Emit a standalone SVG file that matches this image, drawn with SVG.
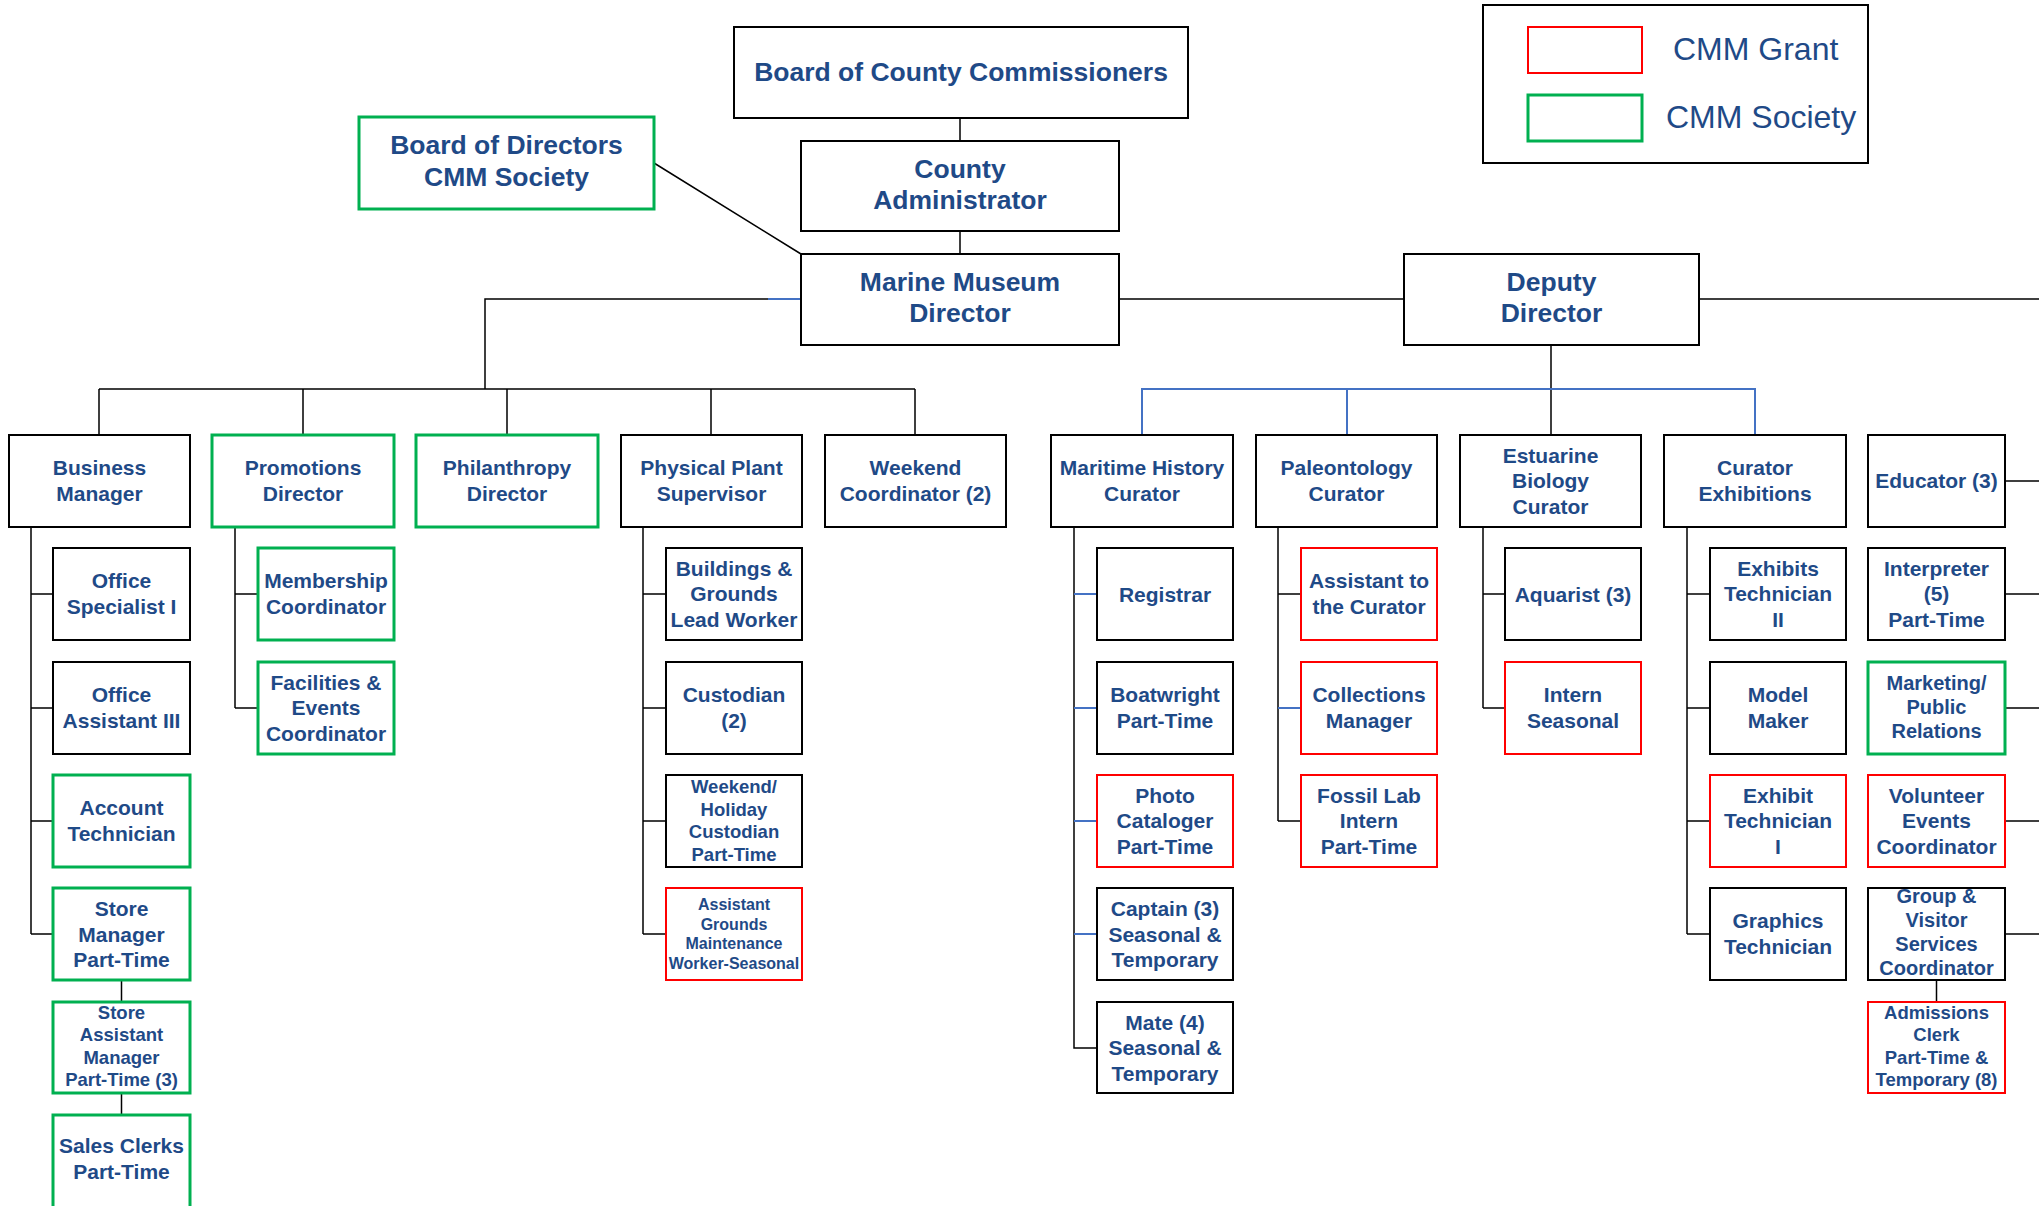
<svg xmlns="http://www.w3.org/2000/svg" width="2039" height="1206" viewBox="0 0 2039 1206">
<style>
.b{fill:#fff;stroke:#000;stroke-width:2}
.g{fill:#fff;stroke:#00B050;stroke-width:3}
.r{fill:#fff;stroke:#FF0000;stroke-width:2}
.t{font-family:"Liberation Sans",Arial,sans-serif;font-weight:bold;fill:#1F4A87;text-anchor:middle;font-size:21px}
.big{font-size:26.5px}
.s20{font-size:20px}
.s18{font-size:18.5px}
.s16{font-size:16px}
.leg{font-family:"Liberation Sans",Arial,sans-serif;fill:#1F4A87;font-size:32px}
.k{fill:none;stroke:#000;stroke-width:1.5}
.bl{fill:none;stroke:#4472C4;stroke-width:2}
</style>
<rect width="2039" height="1206" fill="#fff"/>
<g id="connectors">
<path class="k" d="M960,118V141M960,231V254M654,163L801,254"/>
<path class="k" d="M801,299H485V389M99,389H915M99,389V435M303,389V435M507,389V435M711,389V435M915,389V435"/>
<path class="bl" d="M768,299H801"/>
<path class="k" d="M1119,299H1404M1699,299H2039M1551,345V435"/>
<path class="bl" d="M1142,435V389H1755V435M1347,389V435"/>
<path class="k" d="M31,527V934M31,594H53M31,708H53M31,821H53M31,934H53M121.5,980V1002M121.5,1093V1115"/>
<path class="k" d="M235,527V708M235,594H258M235,708H258"/>
<path class="k" d="M643,527V934M643,594H666M643,708H666M643,821H666M643,934H666"/>
<path class="k" d="M1074,527V1048H1097"/>
<path class="bl" d="M1074,594H1097M1074,708H1097M1074,821H1097M1074,934H1097"/>
<path class="k" d="M1278,527V821M1278,594H1301M1278,821H1301"/>
<path class="bl" d="M1278,708H1301"/>
<path class="k" d="M1483,527V708M1483,594H1505M1483,708H1505"/>
<path class="k" d="M1687,527V934M1687,594H1710M1687,708H1710M1687,821H1710M1687,934H1710"/>
<path class="k" d="M2005,481H2039M2005,594H2039M2005,708H2039M2005,821H2039M2005,934H2039M1936.5,980V1002"/>
</g>
<g id="legend">
<rect class="b" x="1483" y="5" width="385" height="158"/>
<rect class="r" x="1528" y="27" width="114" height="46"/>
<rect class="g" x="1528" y="95" width="114" height="46"/>
<text class="leg" x="1673" y="60">CMM Grant</text>
<text class="leg" x="1666" y="128">CMM Society</text>
</g>
<g id="bocc"><rect class="b" x="734" y="27" width="454" height="91"/><text class="t big" x="961" y="81">Board of County Commissioners</text></g>
<g id="county-admin"><rect class="b" x="801" y="141" width="318" height="90"/><text class="t big" x="960"><tspan x="960" y="177.5">County</tspan><tspan x="960" y="209">Administrator</tspan></text></g>
<g id="marine-director"><rect class="b" x="801" y="254" width="318" height="91"/><text class="t big"><tspan x="960" y="290.5">Marine Museum</tspan><tspan x="960" y="322">Director</tspan></text></g>
<g id="deputy-director"><rect class="b" x="1404" y="254" width="295" height="91"/><text class="t big"><tspan x="1551.5" y="290.5">Deputy</tspan><tspan x="1551.5" y="322">Director</tspan></text></g>
<g id="board-directors"><rect class="g" x="359" y="117" width="295" height="92"/><text class="t big"><tspan x="506.5" y="154">Board of Directors</tspan><tspan x="506.5" y="185.5">CMM Society</tspan></text></g>

<g id="business-manager"><rect class="b" x="9" y="435" width="181" height="92"/><text class="t"><tspan x="99.5" y="475">Business</tspan><tspan x="99.5" y="501">Manager</tspan></text></g>
<g id="promotions-director"><rect class="g" x="212" y="435" width="182" height="92"/><text class="t"><tspan x="303" y="475">Promotions</tspan><tspan x="303" y="501">Director</tspan></text></g>
<g id="philanthropy-director"><rect class="g" x="416" y="435" width="182" height="92"/><text class="t"><tspan x="507" y="475">Philanthropy</tspan><tspan x="507" y="501">Director</tspan></text></g>
<g id="physical-plant"><rect class="b" x="621" y="435" width="181" height="92"/><text class="t"><tspan x="711.5" y="475">Physical Plant</tspan><tspan x="711.5" y="501">Supervisor</tspan></text></g>
<g id="weekend-coordinator"><rect class="b" x="825" y="435" width="181" height="92"/><text class="t"><tspan x="915.5" y="475">Weekend</tspan><tspan x="915.5" y="501">Coordinator (2)</tspan></text></g>
<g id="maritime-curator"><rect class="b" x="1051" y="435" width="182" height="92"/><text class="t"><tspan x="1142" y="475">Maritime History</tspan><tspan x="1142" y="501">Curator</tspan></text></g>
<g id="paleontology-curator"><rect class="b" x="1256" y="435" width="181" height="92"/><text class="t"><tspan x="1346.5" y="475">Paleontology</tspan><tspan x="1346.5" y="501">Curator</tspan></text></g>
<g id="estuarine-curator"><rect class="b" x="1460" y="435" width="181" height="92"/><text class="t"><tspan x="1550.5" y="462.5">Estuarine</tspan><tspan x="1550.5" y="488">Biology</tspan><tspan x="1550.5" y="513.5">Curator</tspan></text></g>
<g id="curator-exhibitions"><rect class="b" x="1664" y="435" width="182" height="92"/><text class="t"><tspan x="1755" y="475">Curator</tspan><tspan x="1755" y="501">Exhibitions</tspan></text></g>
<g id="educator"><rect class="b" x="1868" y="435" width="137" height="92"/><text class="t" x="1936.5" y="488">Educator (3)</text></g>

<g id="office-specialist"><rect class="b" x="53" y="548" width="137" height="92"/><text class="t"><tspan x="121.5" y="588">Office</tspan><tspan x="121.5" y="613.5">Specialist I</tspan></text></g>
<g id="office-assistant"><rect class="b" x="53" y="662" width="137" height="92"/><text class="t"><tspan x="121.5" y="702">Office</tspan><tspan x="121.5" y="727.5">Assistant III</tspan></text></g>
<g id="account-technician"><rect class="g" x="53" y="775" width="137" height="92"/><text class="t"><tspan x="121.5" y="815">Account</tspan><tspan x="121.5" y="840.5">Technician</tspan></text></g>
<g id="store-manager"><rect class="g" x="53" y="888" width="137" height="92"/><text class="t"><tspan x="121.5" y="916">Store</tspan><tspan x="121.5" y="941.5">Manager</tspan><tspan x="121.5" y="967">Part-Time</tspan></text></g>
<g id="store-assistant-manager"><rect class="g" x="53" y="1002" width="137" height="91"/><text class="t s18"><tspan x="121.5" y="1018.5">Store</tspan><tspan x="121.5" y="1041">Assistant</tspan><tspan x="121.5" y="1063.5">Manager</tspan><tspan x="121.5" y="1086">Part-Time (3)</tspan></text></g>
<g id="sales-clerks"><rect class="g" x="53" y="1115" width="137" height="100"/><text class="t"><tspan x="121.5" y="1153">Sales Clerks</tspan><tspan x="121.5" y="1179">Part-Time</tspan></text></g>

<g id="membership-coordinator"><rect class="g" x="258" y="548" width="136" height="92"/><text class="t"><tspan x="326" y="588">Membership</tspan><tspan x="326" y="613.5">Coordinator</tspan></text></g>
<g id="facilities-coordinator"><rect class="g" x="258" y="662" width="136" height="92"/><text class="t"><tspan x="326" y="689.5">Facilities &amp;</tspan><tspan x="326" y="715">Events</tspan><tspan x="326" y="740.5">Coordinator</tspan></text></g>

<g id="buildings-grounds"><rect class="b" x="666" y="548" width="136" height="92"/><text class="t"><tspan x="734" y="575.5">Buildings &amp;</tspan><tspan x="734" y="601">Grounds</tspan><tspan x="734" y="626.5">Lead Worker</tspan></text></g>
<g id="custodian"><rect class="b" x="666" y="662" width="136" height="92"/><text class="t"><tspan x="734" y="702">Custodian</tspan><tspan x="734" y="727.5">(2)</tspan></text></g>
<g id="weekend-custodian"><rect class="b" x="666" y="775" width="136" height="92"/><text class="t s18"><tspan x="734" y="793">Weekend/</tspan><tspan x="734" y="815.5">Holiday</tspan><tspan x="734" y="838">Custodian</tspan><tspan x="734" y="860.5">Part-Time</tspan></text></g>
<g id="assistant-grounds"><rect class="r" x="666" y="888" width="136" height="92"/><text class="t s16"><tspan x="734" y="910">Assistant</tspan><tspan x="734" y="929.5">Grounds</tspan><tspan x="734" y="949">Maintenance</tspan><tspan x="734" y="968.5">Worker-Seasonal</tspan></text></g>

<g id="registrar"><rect class="b" x="1097" y="548" width="136" height="92"/><text class="t" x="1165" y="601.5">Registrar</text></g>
<g id="boatwright"><rect class="b" x="1097" y="662" width="136" height="92"/><text class="t"><tspan x="1165" y="702">Boatwright</tspan><tspan x="1165" y="727.5">Part-Time</tspan></text></g>
<g id="photo-cataloger"><rect class="r" x="1097" y="775" width="136" height="92"/><text class="t"><tspan x="1165" y="802.5">Photo</tspan><tspan x="1165" y="828">Cataloger</tspan><tspan x="1165" y="853.5">Part-Time</tspan></text></g>
<g id="captain"><rect class="b" x="1097" y="888" width="136" height="92"/><text class="t"><tspan x="1165" y="916">Captain (3)</tspan><tspan x="1165" y="941.5">Seasonal &amp;</tspan><tspan x="1165" y="967">Temporary</tspan></text></g>
<g id="mate"><rect class="b" x="1097" y="1002" width="136" height="91"/><text class="t"><tspan x="1165" y="1029.5">Mate (4)</tspan><tspan x="1165" y="1055">Seasonal &amp;</tspan><tspan x="1165" y="1080.5">Temporary</tspan></text></g>

<g id="assistant-curator"><rect class="r" x="1301" y="548" width="136" height="92"/><text class="t"><tspan x="1369" y="588">Assistant to</tspan><tspan x="1369" y="613.5">the Curator</tspan></text></g>
<g id="collections-manager"><rect class="r" x="1301" y="662" width="136" height="92"/><text class="t"><tspan x="1369" y="702">Collections</tspan><tspan x="1369" y="727.5">Manager</tspan></text></g>
<g id="fossil-lab-intern"><rect class="r" x="1301" y="775" width="136" height="92"/><text class="t"><tspan x="1369" y="802.5">Fossil Lab</tspan><tspan x="1369" y="828">Intern</tspan><tspan x="1369" y="853.5">Part-Time</tspan></text></g>

<g id="aquarist"><rect class="b" x="1505" y="548" width="136" height="92"/><text class="t" x="1573" y="601.5">Aquarist (3)</text></g>
<g id="intern-seasonal"><rect class="r" x="1505" y="662" width="136" height="92"/><text class="t"><tspan x="1573" y="702">Intern</tspan><tspan x="1573" y="727.5">Seasonal</tspan></text></g>

<g id="exhibits-technician-2"><rect class="b" x="1710" y="548" width="136" height="92"/><text class="t"><tspan x="1778" y="575.5">Exhibits</tspan><tspan x="1778" y="601">Technician</tspan><tspan x="1778" y="626.5">II</tspan></text></g>
<g id="model-maker"><rect class="b" x="1710" y="662" width="136" height="92"/><text class="t"><tspan x="1778" y="702">Model</tspan><tspan x="1778" y="727.5">Maker</tspan></text></g>
<g id="exhibit-technician-1"><rect class="r" x="1710" y="775" width="136" height="92"/><text class="t"><tspan x="1778" y="802.5">Exhibit</tspan><tspan x="1778" y="828">Technician</tspan><tspan x="1778" y="853.5">I</tspan></text></g>
<g id="graphics-technician"><rect class="b" x="1710" y="888" width="136" height="92"/><text class="t"><tspan x="1778" y="928">Graphics</tspan><tspan x="1778" y="953.5">Technician</tspan></text></g>

<g id="interpreter"><rect class="b" x="1868" y="548" width="137" height="92"/><text class="t"><tspan x="1936.5" y="575.5">Interpreter</tspan><tspan x="1936.5" y="601">(5)</tspan><tspan x="1936.5" y="626.5">Part-Time</tspan></text></g>
<g id="marketing"><rect class="g" x="1868" y="662" width="137" height="92"/><text class="t s20"><tspan x="1936.5" y="690">Marketing/</tspan><tspan x="1936.5" y="714">Public</tspan><tspan x="1936.5" y="738">Relations</tspan></text></g>
<g id="volunteer-coordinator"><rect class="r" x="1868" y="775" width="137" height="92"/><text class="t"><tspan x="1936.5" y="802.5">Volunteer</tspan><tspan x="1936.5" y="828">Events</tspan><tspan x="1936.5" y="853.5">Coordinator</tspan></text></g>
<g id="group-visitor"><rect class="b" x="1868" y="888" width="137" height="92"/><text class="t s20"><tspan x="1936.5" y="903">Group &amp;</tspan><tspan x="1936.5" y="927">Visitor</tspan><tspan x="1936.5" y="951">Services</tspan><tspan x="1936.5" y="975">Coordinator</tspan></text></g>
<g id="admissions-clerk"><rect class="r" x="1868" y="1002" width="137" height="91"/><text class="t s18"><tspan x="1936.5" y="1018.5">Admissions</tspan><tspan x="1936.5" y="1041">Clerk</tspan><tspan x="1936.5" y="1063.5">Part-Time &amp;</tspan><tspan x="1936.5" y="1086">Temporary (8)</tspan></text></g>
</svg>
